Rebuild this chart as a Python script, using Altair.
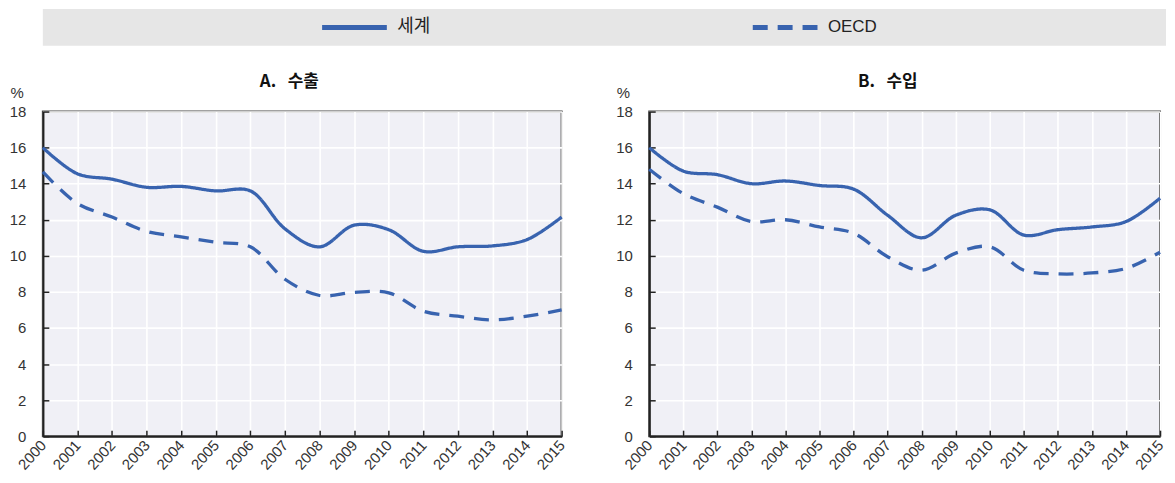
import altair as alt
import pandas as pd

years = list(range(2000, 2016))
series_names = ["세계", "OECD"]

exp_world = [16.0, 14.55, 14.25, 13.8, 13.85, 13.6, 13.6, 11.5, 10.5, 11.7, 11.45, 10.25, 10.5, 10.55, 10.9, 12.15]
exp_oecd = [14.65, 12.9, 12.15, 11.35, 11.05, 10.75, 10.5, 8.7, 7.8, 7.97, 7.95, 6.93, 6.65, 6.45, 6.65, 7.0]
imp_world = [16.0, 14.7, 14.5, 14.0, 14.15, 13.9, 13.7, 12.25, 11.0, 12.25, 12.55, 11.15, 11.45, 11.6, 11.9, 13.2]
imp_oecd = [14.8, 13.45, 12.7, 11.9, 12.0, 11.6, 11.25, 9.95, 9.2, 10.15, 10.5, 9.2, 9.0, 9.05, 9.3, 10.2]

panel_titles = ["A.\u00a0\u00a0 수출", "B.\u00a0\u00a0 수입"]
y_ticks = [0, 2, 4, 6, 8, 10, 12, 14, 16, 18]

BLUE = "#3863AF"
FONT = "Liberation Sans, Noto Sans CJK KR, sans-serif"
KFONT = "Noto Sans CJK KR, sans-serif"
H = 326


def make_df(world, oecd):
    rows = []
    for s, vals in zip(series_names, [world, oecd]):
        for y, v in zip(years, vals):
            rows.append({"series": s, "year": y, "value": v})
    return pd.DataFrame(rows)


dash_scale = alt.Scale(domain=series_names, range=[[1, 0], [13, 7.5]])


def panel(df, title, W, title_dx):
    base = alt.Chart(df)
    lines = base.mark_line(interpolate="catmull-rom", strokeWidth=3.3, color=BLUE, strokeCap="butt").encode(
        x=alt.X("year:Q", scale=alt.Scale(domain=[2000, 2015], nice=False, zero=False),
                axis=alt.Axis(values=years, format="d", labelAngle=-48, labelAlign="right",
                              labelBaseline="middle", ticks=False, labelPadding=6,
                              grid=True, gridColor="white", gridWidth=1.6, gridOpacity=1,
                              domainColor="#222", domainWidth=2.2, title=None,
                              labelFont=FONT, labelFontSize=15, labelColor="#333",
                              labelOverlap=False, labelFlush=False)),
        y=alt.Y("value:Q", scale=alt.Scale(domain=[0, 18], nice=False),
                axis=alt.Axis(values=y_ticks, ticks=False, labelPadding=17,
                              grid=True, gridColor="white", gridWidth=1.6, gridOpacity=1,
                              domainColor="#222", domainWidth=2.2,
                              title="%", titleAngle=0, titleAlign="left", titleBaseline="bottom",
                              titleX=-33, titleY=-11, titleFont=FONT, titleFontSize=15,
                              titleFontWeight="normal", titleColor="#333",
                              labelFont=FONT, labelFontSize=15, labelColor="#333")),
        strokeDash=alt.StrokeDash("series:N", scale=dash_scale, legend=None),
        detail="series:N",
    )
    tick_layer = base.mark_line(opacity=0).encode(
        x=alt.X("year:Q", axis=alt.Axis(orient="top", offset=-H, values=years, labels=False,
                                         ticks=True, tickSize=6, tickWidth=1.5, tickColor="#222",
                                         domain=False, grid=False, title=None)),
        y=alt.Y("value:Q", axis=alt.Axis(orient="right", offset=-W, values=y_ticks, labels=False,
                                         ticks=True, tickSize=6, tickWidth=1.5, tickColor="#222",
                                         domain=False, grid=False, title=None)),
        detail="series:N",
    )
    return alt.layer(lines, tick_layer).resolve_axis(x="independent", y="independent").properties(
        width=W, height=H,
        title=alt.TitleParams(title, font=KFONT, fontSize=17, fontWeight="bold", color="#111",
                              anchor="middle", offset=-5, dx=title_dx),
        view=alt.ViewBackground(fill="#f0f0f6", stroke="#444", strokeWidth=2),
    )


left = panel(make_df(exp_world, exp_oecd), panel_titles[0], 521, -13)
right = panel(make_df(imp_world, imp_oecd), panel_titles[1], 513, -17)

leg_df = pd.DataFrame({"series": series_names})
leg_x = alt.X("series:N", scale=alt.Scale(type="point", domain=series_names, padding=0.804, align=0.45),
              axis=None)
leg_sym = alt.Chart(leg_df).mark_point(shape="M-1,0H1", size=4225, filled=False, strokeWidth=5,
                                        color=BLUE, opacity=1, strokeCap="butt").encode(
    x=leg_x,
    strokeDash=alt.StrokeDash("series:N", scale=alt.Scale(domain=series_names, range=[[1, 0], [15, 10]]),
                              legend=None),
)
leg_txt = alt.Chart(leg_df).mark_text(align="left", baseline="middle", dx=43,
                                      font=FONT, color="#222").encode(
    x=leg_x, text="series:N",
    size=alt.Size("series:N", scale=alt.Scale(domain=series_names, range=[18, 17]), legend=None),
)
legend = alt.layer(leg_sym, leg_txt).properties(
    width=1128, height=37,
    view=alt.ViewBackground(fill="#e6e6e6", strokeWidth=0),
)

chart = alt.vconcat(
    legend,
    alt.hconcat(left, right, spacing=45),
    spacing=26,
).configure(padding={"left": 0, "top": 0, "right": -1, "bottom": 0}, background="white")

chart.save("out.html", embed_options={"renderer": "svg", "actions": False})
